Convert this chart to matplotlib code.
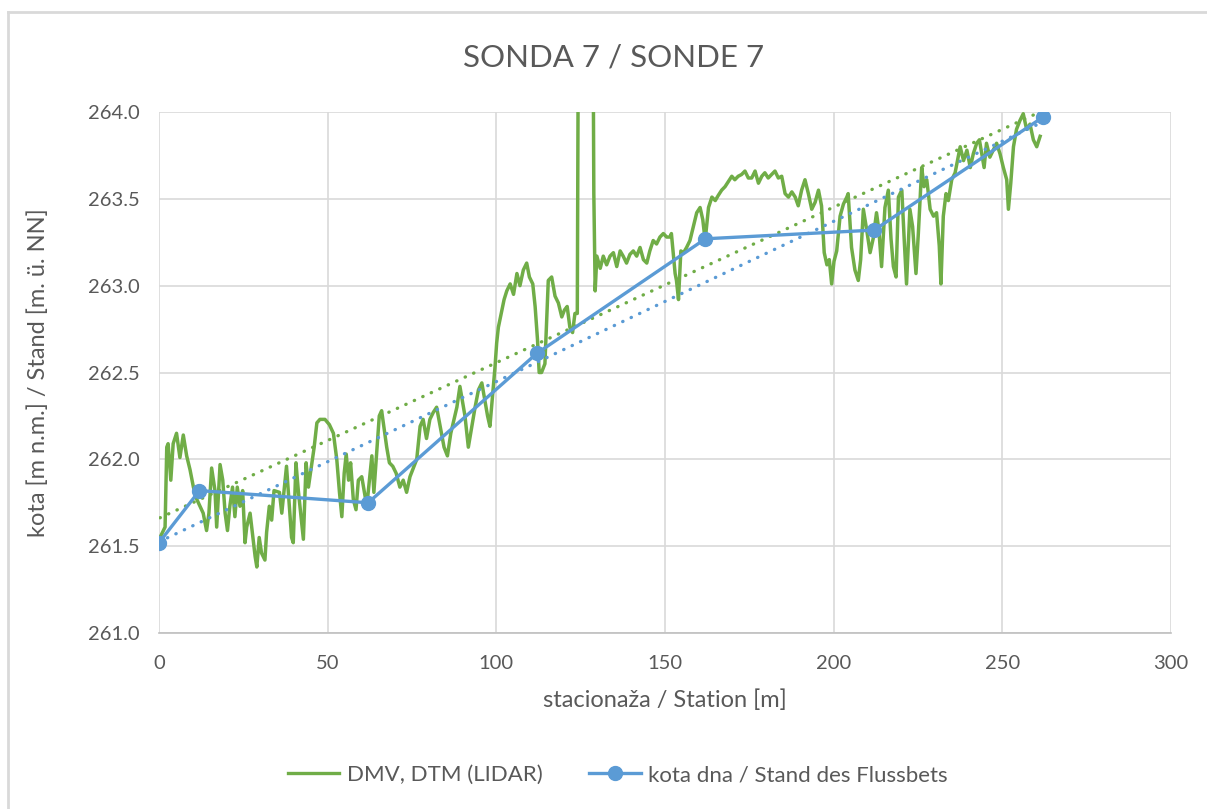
import matplotlib.pyplot as plt
import numpy as np
from matplotlib.lines import Line2D

plt.rcParams['font.family'] = ['Lato', 'DejaVu Sans']

# bed level (kota dna / Stand des Flussbets)
bed_x = [0, 12, 62, 112, 162, 212, 262]
bed_y = [261.52, 261.82, 261.75, 262.61, 263.27, 263.32, 263.97]

# terrain profile DMV, DTM (LIDAR)
dtm_x = [0.3, 1.8, 2.3, 2.7, 3.5, 4.2, 5.2, 6.2, 7.2, 8.2, 9.2, 10.2, 11.2, 13.1, 14.1,
         14.8, 15.6, 16.6, 17.1, 18.1, 18.9, 19.6, 20.3, 21.0, 21.8, 22.5, 23.2, 24.0,
         24.8, 25.5, 26.0, 27.0, 28.5, 29.0, 29.7, 30.4, 31.4, 31.9, 32.7, 33.4, 34.1,
         35.7, 36.4, 37.8, 39.3, 39.8, 40.6, 41.3, 42.8, 43.6, 44.3, 46.0, 46.8, 47.7,
         49.2, 50.5, 51.7, 52.7, 53.5, 54.2, 54.9, 55.5, 56.2, 56.8, 57.6, 58.4, 59.1,
         60.1, 61.6, 63.1, 63.7, 65.3, 66.0, 67.5, 68.3, 69.3, 70.3, 71.4, 72.4, 73.4,
         74.4, 76.4, 77.4, 78.3, 79.3, 80.3, 81.3, 82.3, 84.5, 85.5, 86.5, 88.3, 89.2,
         90.7, 91.7, 93.7, 94.7, 95.7, 97.4, 98.1, 99.6, 100.1, 100.6, 102.3, 103.1,
         104.1, 105.1, 106.1, 107.0, 108.0, 109.0, 109.8, 110.8, 111.5, 112.2, 112.7,
         113.4, 114.4, 115.4, 116.4, 117.4, 118.4, 119.4, 120.2, 121.0, 121.8, 122.6,
         123.3, 124.0, 124.4, 126.5, 128.6, 128.9, 129.3, 129.8, 130.8, 131.7, 132.7,
         133.7, 134.7, 135.7, 136.7, 137.6, 138.6, 139.6, 140.6, 141.6, 142.6, 143.6,
         144.6, 145.5, 146.5, 147.5, 148.5, 149.5, 150.5, 151.5, 151.9, 153.0, 153.4,
         154.0, 154.7, 155.5, 156.4, 157.4, 158.4, 159.4, 160.4, 161.2, 161.9, 162.9,
         163.9, 164.9, 165.8, 166.8, 167.8, 168.8, 169.8, 170.7, 171.7, 172.7, 173.7,
         174.7, 175.7, 176.7, 177.7, 178.7, 179.6, 180.6, 181.6, 182.6, 183.6, 184.6,
         185.6, 186.6, 187.6, 188.6, 189.5, 190.5, 191.5, 192.5, 193.5, 194.5, 195.5,
         196.4, 197.2, 198.0, 198.7, 199.4, 200.1, 200.9, 201.9, 202.9, 203.9, 204.3,
         205.3, 206.3, 207.3, 208.0, 208.8, 209.8, 210.8, 211.7, 212.7, 213.4, 214.2,
         215.2, 216.2, 217.0, 217.7, 218.5, 219.2, 220.2, 220.9, 221.6, 222.6, 223.4,
         224.4, 225.1, 226.1, 226.8, 227.6, 228.6, 229.6, 230.5, 231.3, 231.8, 232.5,
         233.3, 234.0, 235.0, 236.0, 236.7, 237.5, 238.5, 239.5, 240.5, 241.4, 242.4,
         243.2, 243.9, 244.6, 245.3, 246.3, 247.3, 248.3, 249.3, 250.3, 251.3, 251.8,
         252.5, 253.3, 254.2, 255.2, 256.2, 257.2, 258.2, 259.2, 260.2, 261.2]
dtm_y = [261.55, 261.61, 262.07, 262.09, 261.88, 262.09, 262.15, 262.01, 262.14, 262.02,
         261.94, 261.84, 261.77, 261.69, 261.59, 261.69, 261.95, 261.82, 261.61, 261.97,
         261.88, 261.69, 261.59, 261.73, 261.84, 261.67, 261.84, 261.73, 261.82, 261.52,
         261.61, 261.69, 261.44, 261.38, 261.55, 261.46, 261.42, 261.58, 261.73, 261.65,
         261.82, 261.81, 261.69, 261.96, 261.55, 261.52, 261.98, 261.82, 261.54, 261.98,
         261.84, 262.07, 262.21, 262.23, 262.23, 262.20, 262.15, 262.00, 261.81, 261.67,
         261.92, 262.03, 261.88, 261.98, 261.77, 261.71, 261.88, 261.90, 261.73, 262.02,
         261.81, 262.25, 262.28, 262.07, 261.98, 261.96, 261.92, 261.84, 261.88, 261.81,
         261.90, 262.00, 262.19, 262.23, 262.12, 262.23, 262.27, 262.30, 262.07, 262.02,
         262.15, 262.30, 262.42, 262.25, 262.07, 262.30, 262.40, 262.44, 262.25, 262.19,
         262.53, 262.67, 262.76, 262.92, 262.97, 263.01, 262.95, 263.07, 263.00, 263.09,
         263.13, 263.05, 263.01, 262.88, 262.69, 262.50, 262.50, 262.55, 263.03, 263.05,
         262.94, 262.90, 262.82, 262.86, 262.88, 262.76, 262.73, 262.84, 262.84, 265.00,
         265.30, 264.80, 263.53, 262.97, 263.17, 263.10, 263.17, 263.12, 263.17, 263.19,
         263.11, 263.20, 263.17, 263.13, 263.18, 263.20, 263.17, 263.22, 263.15, 263.13,
         263.20, 263.26, 263.24, 263.28, 263.30, 263.28, 263.28, 263.30, 263.07, 263.03,
         262.92, 263.20, 263.19, 263.22, 263.26, 263.34, 263.42, 263.45, 263.38, 263.26,
         263.45, 263.51, 263.49, 263.52, 263.55, 263.57, 263.60, 263.63, 263.61, 263.63,
         263.64, 263.66, 263.62, 263.62, 263.66, 263.59, 263.63, 263.65, 263.62, 263.64,
         263.66, 263.62, 263.63, 263.53, 263.51, 263.54, 263.51, 263.46, 263.55, 263.61,
         263.53, 263.44, 263.48, 263.55, 263.46, 263.19, 263.12, 263.15, 263.01, 263.14,
         263.20, 263.40, 263.47, 263.51, 263.53, 263.22, 263.09, 263.03, 263.15, 263.44,
         263.32, 263.19, 263.27, 263.42, 263.32, 263.11, 263.45, 263.55, 263.27, 263.11,
         263.05, 263.51, 263.55, 263.27, 263.01, 263.44, 263.34, 263.07, 263.30, 263.68,
         263.57, 263.61, 263.44, 263.40, 263.42, 263.23, 263.01, 263.40, 263.53, 263.49,
         263.61, 263.65, 263.72, 263.80, 263.72, 263.78, 263.68, 263.76, 263.82, 263.84,
         263.76, 263.68, 263.82, 263.74, 263.78, 263.82, 263.76, 263.68, 263.61, 263.44,
         263.59, 263.80, 263.90, 263.95, 263.99, 263.90, 263.93, 263.84, 263.80, 263.86]

green = '#70AD47'
blue = '#5B9BD5'
txt = '#595959'
grid = '#D9D9D9'

W, H = 1207, 809
fig = plt.figure(figsize=(W / 100, H / 100), dpi=100)
ax = fig.add_axes([159 / W, 1 - 633 / H, 1012 / W, 521 / H])

ax.plot(dtm_x, dtm_y, color=green, lw=2.5, zorder=3)
ax.plot(bed_x, bed_y, color=blue, lw=2.4, marker='o', ms=10, zorder=5)

# linear trend lines
for xs, ys, c in [(dtm_x, dtm_y, green), (bed_x, bed_y, blue)]:
    k, n = np.polyfit(xs, ys, 1)
    tx = np.array([min(xs), max(xs)])
    ax.plot(tx, k * tx + n, color=c, lw=2.4, ls=(0, (0.1, 2.7)),
            dash_capstyle='round', zorder=4)

ax.set_xlim(0, 300)
ax.set_ylim(261, 264)
ax.set_xticks(np.arange(0, 301, 50))
ax.set_yticks(np.arange(261, 264.01, 0.5))
ax.set_yticklabels([f'{v:.1f}' for v in np.arange(261, 264.01, 0.5)])
ax.grid(True, color=grid, lw=1.2, zorder=0)
ax.set_axisbelow(True)
for s in ['top', 'right', 'left']:
    ax.spines[s].set_visible(False)
ax.spines['bottom'].set_color('#BFBFBF')
ax.spines['bottom'].set_linewidth(1.2)
ax.tick_params(length=0, labelsize=14.5, labelcolor=txt)
ax.tick_params(axis='x', pad=16)
ax.tick_params(axis='y', pad=14)

ax.set_xlabel('stacionaža / Station [m]', fontsize=17, color=txt, labelpad=12)
ax.set_ylabel('kota [m n.m.] / Stand [m. ü. NN]', fontsize=17, color=txt, labelpad=28)
fig.text(614 / W, 1 - 58 / H, 'SONDA 7 / SONDE 7', fontsize=22.5, color=txt,
         ha='center', va='center')

handles = [Line2D([], [], color=green, lw=2.4),
           Line2D([], [], color=blue, lw=2.4, marker='o', ms=10)]
fig.legend(handles, ['DMV, DTM (LIDAR)', 'kota dna / Stand des Flussbets'],
           loc='center', bbox_to_anchor=(618 / W, 1 - 775 / H), ncol=2,
           frameon=False, fontsize=16, labelcolor=txt, handlelength=2.3,
           columnspacing=2.1, handletextpad=0.35)

# chart area border (left and top only visible)
fig.add_artist(Line2D([8 / W, 8 / W], [0, 1 - 12 / H], color=grid, lw=2))
fig.add_artist(Line2D([8 / W, 1], [1 - 12 / H, 1 - 12 / H], color=grid, lw=2))

fig.savefig('out.png', dpi=100)
